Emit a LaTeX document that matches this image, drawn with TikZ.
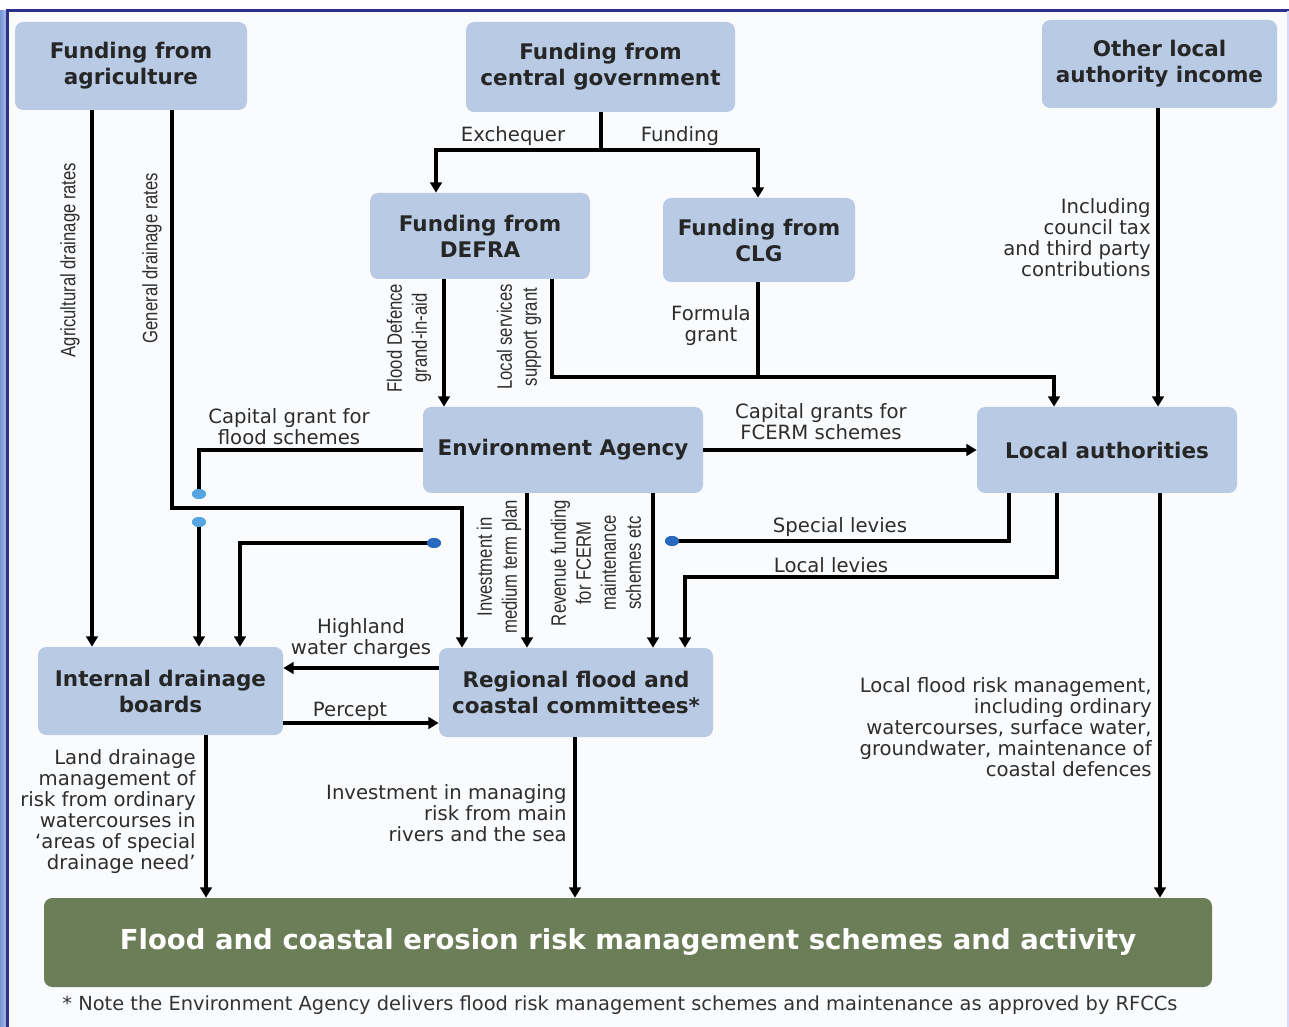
\documentclass[tikz,border=0pt]{standalone}
\usepackage{fontspec}
\setmainfont{DejaVu Sans}
\newfontfamily\condfont[FakeStretch=0.8]{Liberation Sans}
\usetikzlibrary{arrows.meta,shapes.geometric}
\definecolor{boxblue}{RGB}{184,202,228}
\definecolor{boxgreen}{RGB}{107,126,88}
\definecolor{navy}{RGB}{45,48,140}
\definecolor{dotblue}{RGB}{40,105,190}
\definecolor{dotlight}{RGB}{85,165,225}
\definecolor{labelgrey}{RGB}{45,45,45}
\definecolor{bgtint}{RGB}{250,251,253}
\definecolor{stripblue}{RGB}{120,150,215}
\begin{document}
\begin{tikzpicture}[x=0.6pt,y=-0.6pt,
 box/.style={fill=boxblue, rounded corners=5pt, align=center, inner sep=0pt,
   font=\bfseries\fontsize{12.9}{15.6}\selectfont, text=black!85},
 conn/.style={line width=2.1pt, black},
 arr/.style={conn, -{Triangle[length=6.2pt,width=7pt]}},
 lbl/.style={font=\fontsize{11.8}{12.6}\selectfont, text=labelgrey, align=center, inner sep=0pt},
 rlbl/.style={lbl, align=right, anchor=east},
 vlbl/.style={font=\condfont\fontsize{12.5}{15}\selectfont, text=labelgrey, align=center, inner sep=0pt, rotate=90},
 dotb/.style={ellipse, fill=dotblue, minimum width=8.4pt, minimum height=6pt, inner sep=0pt},
 dotl/.style={dotb, fill=dotlight}]
\useasboundingbox (0,0) rectangle (1289,1027);
% frame
\fill[white] (0,0) rectangle (1289,1027);
\fill[bgtint] (8,11) rectangle (1288,1027);
\shade[left color=stripblue, right color=stripblue!60] (0,11) rectangle (7,1027);
\draw[navy, line width=1.3pt] (7.5,1027) -- (7.5,10.5) -- (1289,10.5);
\draw[blue!15, line width=0.8pt] (1288,11) -- (1288,1027);

% boxes
\node[box, minimum width=139.2pt, minimum height=52.8pt] (agri) at (131,66) {Funding from\\agriculture};
\node[box, minimum width=161.4pt, minimum height=54pt] (central) at (600.5,67) {Funding from\\central government};
\node[box, minimum width=141pt, minimum height=52.8pt] (other) at (1159.5,64) {Other local\\authority income};
\node[box, minimum width=132pt, minimum height=51.6pt] (defra) at (480,236) {Funding from\\DEFRA};
\node[box, minimum width=115.2pt, minimum height=50.4pt] (clg) at (759,240) {Funding from\\CLG};
\node[box, minimum width=168pt, minimum height=51.6pt] (ea) at (563,450) {Environment Agency};
\node[box, minimum width=156pt, minimum height=51.6pt] (la) at (1107,450) {Local authorities};
\node[box, minimum width=147pt, minimum height=52.8pt] (idb) at (160.5,691) {Internal drainage\\boards};
\node[box, minimum width=164.4pt, minimum height=53.4pt] (rfcc) at (576,692.5) {Regional flood and\\coastal committees*};
\node[box, fill=boxgreen, text=white, minimum width=700.8pt, minimum height=53.4pt,
  font=\bfseries\fontsize{16.5}{19}\selectfont] (green) at (628,942.5)
  {Flood and coastal erosion risk management schemes and activity};
\node[lbl, font=\fontsize{11.65}{13}\selectfont, text=black!80] (note) at (620,1005)
  {* Note the Environment Agency delivers flood risk management schemes and maintenance as approved by RFCCs};

% named bend points and dots
\coordinate (cj) at (601,150);
\coordinate (gd) at (462,508);
\coordinate (lsl) at (552,377);
\coordinate (lsr) at (1054,377);
\coordinate (fg) at (758,377);
\coordinate (ll) at (685,577);
\node[dotl] (d1) at (199,494) {};
\node[dotl] (d2) at (199,522) {};
\node[dotb] (d3) at (434,543) {};
\node[dotb] (d4) at (672,541) {};

% connectors
\draw[arr] (agri.south -| 92,0) -- (idb.north -| 92,0);
\draw[arr] (agri.south -| 172,0) |- (gd) -- (rfcc.north -| gd);
\draw[conn] (central.south -| cj) -- (cj);
\draw[arr] (cj) -| (defra.north -| 436,0);
\draw[arr] (cj) -| (clg.north -| 758,0);
\draw[arr] (defra.south -| 444,0) -- (ea.north -| 444,0);
\draw[arr] (defra.south -| lsl) -- (lsl) -- (lsr) -- (la.north -| lsr);
\draw[conn] (clg.south -| fg) -- (fg);
\draw[arr] (other.south -| 1158,0) -- (la.north -| 1158,0);
\draw[arr] (ea.east) -- (la.west);
\draw[conn] (ea.west) -| (d1.center);
\draw[arr] (d2.center) -- (idb.north -| d2);
\draw[arr] (ea.south -| 527,0) -- (rfcc.north -| 527,0);
\draw[arr] (ea.south -| 653,0) -- (rfcc.north -| 653,0);
\draw[conn] (la.south -| 1009,0) |- (d4.center);
\draw[arr] (d3.center) -| (idb.north -| 240,0);
\draw[arr] (la.south -| 1057,0) |- (ll) -- (rfcc.north -| ll);
\draw[arr] (la.south -| 1160,0) -- (green.north -| 1160,0);
\draw[arr] (rfcc.west |- 0,668) -- (idb.east |- 0,668);
\draw[arr] (idb.east |- 0,723) -- (rfcc.west |- 0,723);
\draw[arr] (idb.south -| 206,0) -- (green.north -| 206,0);
\draw[arr] (rfcc.south -| 575,0) -- (green.north -| 575,0);
% redraw dots on top
\node[dotl] at (d1) {};
\node[dotl] at (d2) {};
\node[dotb] at (d3) {};
\node[dotb] at (d4) {};

% labels
\node[lbl] (lexch) at (513,136) {Exchequer};
\node[lbl] (lfund) at (680,136) {Funding};
\node[lbl] (lcapg) at (289,427) {Capital grant for\\flood schemes};
\node[lbl] (lcapf) at (821,422) {Capital grants for\\FCERM schemes};
\node[lbl] (lspec) at (840,527) {Special levies};
\node[lbl] (llocl) at (831,565) {Local levies};
\node[lbl] (lform) at (711,326) {Formula\\grant};
\node[rlbl] (linc) at (1151,238) {Including\\council tax\\and third party\\contributions};
\node[rlbl] (llfrm) at (1152,727) {Local flood risk management,\\including ordinary\\watercourses, surface water,\\groundwater, maintenance of\\coastal defences};
\node[lbl] (lhigh) at (361,639) {Highland\\water charges};
\node[lbl] (lperc) at (350,711) {Percept};
\node[rlbl] (lland) at (196,812) {Land drainage\\management of\\risk from ordinary\\watercourses in\\`areas of special\\drainage need'};
\node[rlbl] (linv) at (567,813) {Investment in managing\\risk from main\\rivers and the sea};
\node[vlbl] (vagri) at (70,260) {Agricultural drainage rates};
\node[vlbl] (vgen) at (152,258) {General drainage rates};
\node[vlbl] (vflood) at (409,338) {Flood Defence\\grand-in-aid};
\node[vlbl] (vlocal) at (519,337) {Local services\\support grant};
\node[vlbl] (vinv) at (499,567) {Investment in\\medium term plan};
\node[vlbl] (vrev) at (596,563) {Revenue funding\\for FCERM\\maintenance\\schemes etc};
\end{tikzpicture}
\end{document}
